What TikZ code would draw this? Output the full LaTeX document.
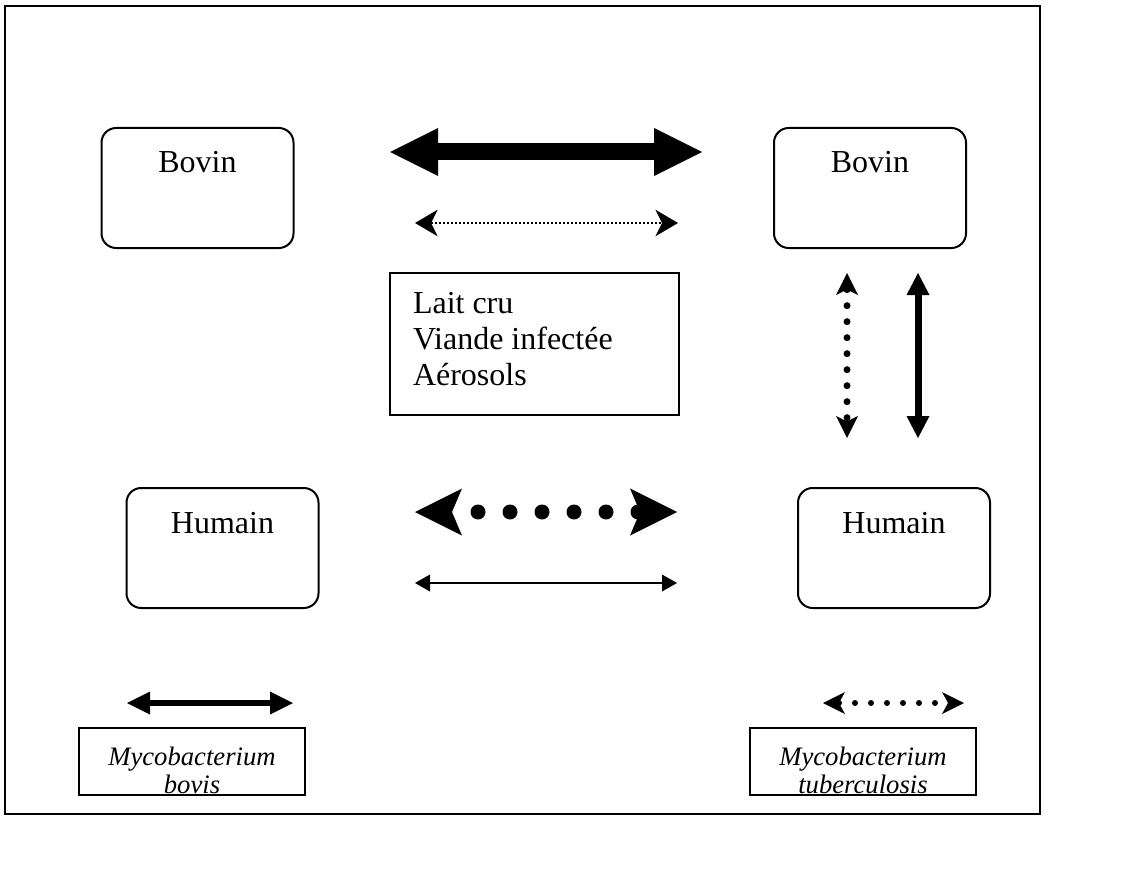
\documentclass[tikz,border=0pt]{standalone}
\usepackage{fontspec}
\setmainfont{Liberation Serif}
\usetikzlibrary{arrows.meta}
\begin{document}
\begin{tikzpicture}[x=0.75pt,y=-0.75pt,
  txt/.style={font=\fontsize{24}{27}\selectfont},
  roundbox/.style={txt, draw, line width=1.5pt, rounded corners=11pt, minimum width=144pt,
    inner sep=0pt, text height=33.75pt, text depth=56.25pt, anchor=north},
  listbox/.style={txt, draw, line width=1.5pt, inner sep=0pt, text height=30pt, text depth=76.5pt, anchor=north west},
  mycobox/.style={font=\fontsize{20}{21}\selectfont\itshape, draw, line width=1.5pt, inner sep=0pt, minimum width=169.5pt, text height=27.75pt, text depth=22.5pt, anchor=north west},
  thickarrow/.style={line width=12.75pt, {Triangle[length=36pt,width=36pt,line width=0pt]}-{Triangle[length=36pt,width=36pt,line width=0pt]}},
  finedotarrow/.style={line width=1.5pt, dash pattern=on 1.5pt off 1.5pt, {Stealth[length=17pt,width=20pt,inset=5pt,line width=0pt]}-{Stealth[length=17pt,width=20pt,inset=5pt,line width=0pt]}},
  bigdotarrow/.style={line width=11.25pt, line cap=round, dash pattern=on 0pt off 24pt, dash phase=4.5pt, {Stealth[length=35.25pt,width=35.25pt,inset=7.5pt,line width=0pt]}-{Stealth[length=35.25pt,width=35.25pt,inset=7.5pt,line width=0pt]}},
  thinarrow/.style={line width=1.5pt, {Triangle[length=11.25pt,width=12.75pt,line width=0pt]}-{Triangle[length=11.25pt,width=12.75pt,line width=0pt]}},
  vdotarrow/.style={line width=5.25pt, line cap=round, dash pattern=on 0pt off 12pt, {Stealth[length=16.5pt,width=16.5pt,inset=4pt,line width=0pt]}-{Stealth[length=16.5pt,width=16.5pt,inset=4pt,line width=0pt]}},
  vsolidarrow/.style={line width=5.25pt, {Triangle[length=16.5pt,width=17.25pt,line width=0pt]}-{Triangle[length=16.5pt,width=17.25pt,line width=0pt]}},
  bovisarrow/.style={line width=4.5pt, {Triangle[length=17.25pt,width=17.25pt,line width=0pt]}-{Triangle[length=17.25pt,width=17.25pt,line width=0pt]}},
  tbarrow/.style={line width=4.5pt, line cap=round, dash pattern=on 0pt off 12pt, {Stealth[length=16.5pt,width=16.5pt,inset=4.5pt,line width=0pt]}-{Stealth[length=16.5pt,width=16.5pt,inset=4.5pt,line width=0pt]}}
]
\useasboundingbox (0,0) rectangle (1131,870);
\draw[line width=1.5pt] (5,6) rectangle (1040,814);

\node[roundbox] (bovinL) at (197.5,127) {Bovin};
\node[roundbox] (bovinR) at (870,127) {Bovin};
\node[roundbox] (humainL) at (222.5,487) {Humain};
\node[roundbox] (humainR) at (894,487) {Humain};

\node[listbox] (voies) at (389,272) {\makebox[216.75pt][l]{\hspace{17.25pt}\begin{tabular}[t]{@{}l@{}}Lait cru\\Viande infectée\\Aérosols\end{tabular}}};

\node[mycobox] (bovis) at (78,727) {\begin{tabular}[t]{@{}c@{}}Mycobacterium\\bovis\end{tabular}};
\node[mycobox] (tb) at (749,727) {\begin{tabular}[t]{@{}c@{}}Mycobacterium\\tuberculosis\end{tabular}};

\coordinate (a1) at (390,152); \coordinate (a2) at (702,152);
\coordinate (b1) at (415,223); \coordinate (b2) at (678,223);
\coordinate (c1) at (415,512); \coordinate (c2) at (677,512);
\coordinate (d1) at (415,583); \coordinate (d2) at (677,583);
\coordinate (e1) at (847,273); \coordinate (e2) at (847,438);
\coordinate (f1) at (918,273); \coordinate (f2) at (918,438);
\coordinate (g1) at (127,703); \coordinate (g2) at (293,703);
\coordinate (h1) at (823,703); \coordinate (h2) at (964,703);

\draw[thickarrow] (a1) -- (a2);
\draw[finedotarrow] (b1) -- (b2);
\draw[bigdotarrow] (c1) -- (c2);
\draw[thinarrow] (d1) -- (d2);
\draw[vdotarrow] (e1) -- (e2);
\draw[vsolidarrow] (f1) -- (f2);
\draw[bovisarrow] (g1) -- (g2);
\draw[tbarrow] (h1) -- (h2);
\end{tikzpicture}
\end{document}
